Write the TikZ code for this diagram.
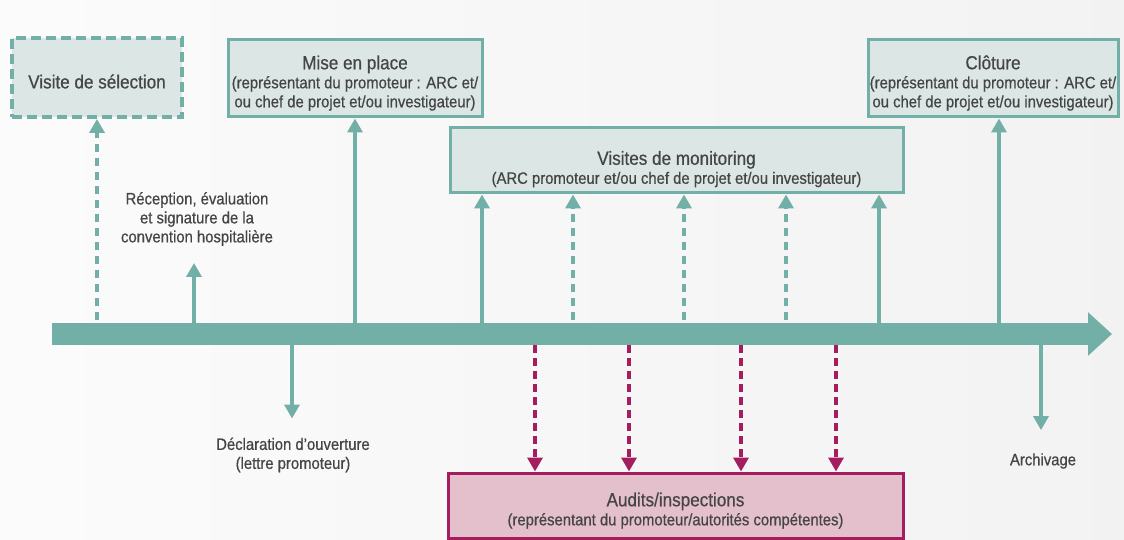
\documentclass[tikz,border=0pt]{standalone}
\usepackage{fontspec}
\setmainfont{Liberation Sans}[FakeStretch=0.9,FakeBold=0.6]
\usetikzlibrary{arrows.meta}
\definecolor{tealc}{HTML}{72AFA6}
\definecolor{boxfill}{HTML}{DCE7E5}
\definecolor{magc}{HTML}{A51D5E}
\definecolor{pinkfill}{HTML}{E4BFCC}
\definecolor{txt}{HTML}{454545}
\newcommand{\titlef}{\fontsize{19}{21}\selectfont}
\newcommand{\subf}{\fontsize{16.5}{19}\selectfont}
\newcommand{\bodyf}{\fontsize{16.5}{19}\selectfont}
\begin{document}
\begin{tikzpicture}[x=1pt,y=-1pt,
  box/.style={draw=tealc, line width=3pt, fill=boxfill, text=txt, align=center, inner sep=0pt, font=\subf},
  dbox/.style={box, line width=4pt, dash pattern=on 10pt off 5pt},
  abox/.style={box, draw=magc, fill=pinkfill},
  lbl/.style={text=txt, align=center, inner sep=0pt, font=\bodyf},
  upar/.style={draw=tealc, line width=3.8pt, -{Triangle[width=15pt,length=14pt]}},
  dupar/.style={upar, dash pattern=on 8pt off 6pt},
  magar/.style={draw=magc, line width=4pt, dash pattern=on 8pt off 5pt, -{Triangle[width=15pt,length=14pt]}},
  bar/.style={draw=tealc, line width=22pt, -{Triangle[width=42pt,length=24pt]}}
]
\useasboundingbox (0,0) rectangle (1124,540);
\shade[left color=white!97!gray, right color=white!90!gray] (0,0) rectangle (1124,540);

% boxes
\node[dbox, minimum width=170pt, minimum height=79pt] (sel) at (97,77.5)
  {\rule{0pt}{22pt}{\titlef Visite de sélection}};
\node[box, minimum width=254pt, minimum height=77pt] (mep) at (355,78.5)
  {\rule{0pt}{23pt}{\titlef Mise en place}\\(représentant du promoteur : ARC et/\\ou chef de projet et/ou investigateur)};
\node[box, minimum width=250pt, minimum height=77pt] (clo) at (993,78.5)
  {\rule{0pt}{23pt}{\titlef Clôture}\\(représentant du promoteur : ARC et/\\ou chef de projet et/ou investigateur)};
\node[box, minimum width=453pt, minimum height=65pt] (mon) at (676.5,160.5)
  {\rule{0pt}{31pt}{\titlef Visites de monitoring}\\(ARC promoteur et/ou chef de projet et/ou investigateur)};
\node[abox, minimum width=455pt, minimum height=65pt] (aud) at (675.5,505.5)
  {\rule{0pt}{24pt}{\titlef Audits/inspections}\\(représentant du promoteur/autorités compétentes)};

% free labels
\node[lbl] (rec) at (197,219) {Réception, évaluation\\et signature de la\\convention hospitalière};
\node[lbl] (dec) at (293,455) {Déclaration d’ouverture\\(lettre promoteur)};
\node[lbl] (arch) at (1043,461) {Archivage};

% timeline coordinates
\coordinate (t0) at (52,334);
\coordinate (t1) at (1112,334);
\coordinate (u1) at (97,334);
\coordinate (u2) at (194,334);
\coordinate (u3) at (355,334);
\coordinate (u4) at (482,334);
\coordinate (u5) at (573,334);
\coordinate (u6) at (684,334);
\coordinate (u7) at (786,334);
\coordinate (u8) at (879,334);
\coordinate (u9) at (999,334);
\coordinate (d1) at (292,334);
\coordinate (d2) at (1041,334);
\coordinate (m1) at (535,334);
\coordinate (m2) at (629,334);
\coordinate (m3) at (741,334);
\coordinate (m4) at (836,334);

% up arrows
\draw[dupar] (u1) -- (u1 |- sel.south);
\draw[upar, shorten >=17pt] (u2) -- (u2 |- rec.south);
\draw[upar] (u3) -- (u3 |- mep.south);
\draw[upar] (u4) -- (u4 |- mon.south);
\draw[dupar] (u5) -- (u5 |- mon.south);
\draw[dupar] (u6) -- (u6 |- mon.south);
\draw[dupar] (u7) -- (u7 |- mon.south);
\draw[upar] (u8) -- (u8 |- mon.south);
\draw[upar] (u9) -- (u9 |- clo.south);

% down arrows
\draw[upar, shorten >=19pt] (d1) -- (d1 |- dec.north);
\draw[upar, shorten >=23pt] (d2) -- (d2 |- arch.north);
\draw[magar] ([yshift=-11pt]m1) -- (m1 |- aud.north);
\draw[magar] ([yshift=-11pt]m2) -- (m2 |- aud.north);
\draw[magar] ([yshift=-11pt]m3) -- (m3 |- aud.north);
\draw[magar] ([yshift=-11pt]m4) -- (m4 |- aud.north);

% timeline bar
\draw[bar] (t0) -- (t1);
\end{tikzpicture}
\end{document}
